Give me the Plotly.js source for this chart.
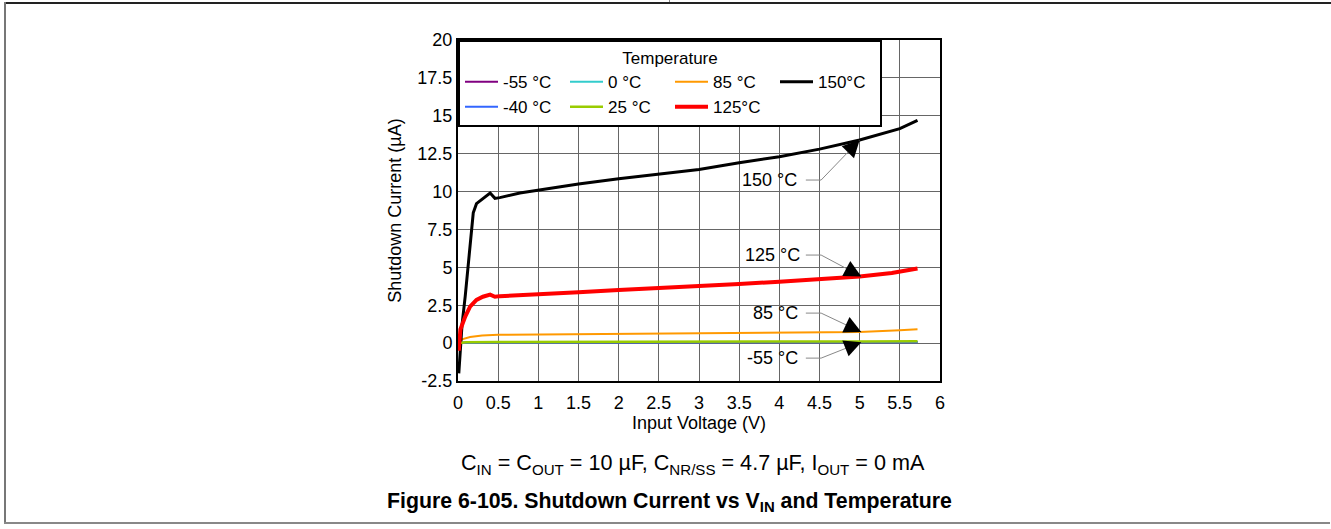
<!DOCTYPE html>
<html>
<head>
<meta charset="utf-8">
<script src="https://cdn.plot.ly/plotly-3.0.1.min.js"></script>
<style>
  html, body { margin: 0; padding: 0; background: #fff; }
  #wrap { position: relative; width: 1331px; height: 529px; overflow: hidden; }
  #chart { position: absolute; left: 0; top: 0; width: 1331px; height: 529px; }
  .ln { position: absolute; }
</style>
</head>
<body>
<div id="wrap">
  <div id="chart"></div>
  <div class="ln" style="left:4px; top:2px; width:1327px; height:2px; background:#222;"></div>
  <div class="ln" style="left:669px; top:0px; width:1px; height:2px; background:#888;"></div>
  <div class="ln" style="left:4px; top:2px; width:2px; height:522px; background:#777;"></div>
  <div class="ln" style="left:4px; top:522px; width:1326px; height:2px; background:#888;"></div>
</div>
<script>
// ---- data ----
const vin150 = [0.01, 0.03, 0.05, 0.09, 0.13, 0.19, 0.23, 0.29, 0.34, 0.40, 0.46, 0.52, 0.77, 1.0, 1.5, 2.0, 2.5, 3.0, 3.5, 4.0, 4.5, 5.0, 5.5, 5.72];
const i150   = [-2.0, -0.2, 1.2, 3.1, 5.3, 8.6, 9.2, 9.45, 9.6, 9.9, 9.55, 9.6, 9.9, 10.1, 10.5, 10.85, 11.15, 11.45, 11.9, 12.3, 12.8, 13.4, 14.15, 14.7];

const vin125 = [0.01, 0.03, 0.09, 0.15, 0.23, 0.31, 0.40, 0.46, 0.52, 1.0, 1.5, 2.0, 2.5, 3.0, 3.5, 4.0, 4.5, 5.0, 5.4, 5.72];
const i125   = [-0.5, 0.9, 1.75, 2.4, 2.85, 3.06, 3.2, 3.06, 3.1, 3.2, 3.35, 3.5, 3.62, 3.76, 3.9, 4.05, 4.22, 4.4, 4.62, 4.92];

const vin85 = [0.01, 0.05, 0.15, 0.3, 0.5, 1.0, 2.0, 3.0, 4.0, 4.5, 5.0, 5.5, 5.72];
const i85   = [0.0, 0.25, 0.4, 0.5, 0.55, 0.57, 0.6, 0.63, 0.67, 0.7, 0.74, 0.85, 0.92];

const vinLow = [0.02, 0.1, 0.5, 1.0, 2.0, 3.0, 4.0, 5.0, 5.72];
const i25    = [0.0, 0.06, 0.08, 0.08, 0.08, 0.09, 0.10, 0.11, 0.13];
const i0     = [0.0, 0.04, 0.05, 0.05, 0.05, 0.06, 0.06, 0.07, 0.08];
const iM40   = [0.0, 0.03, 0.04, 0.04, 0.04, 0.05, 0.05, 0.05, 0.06];
const iM55   = [0.0, 0.04, 0.06, 0.06, 0.05, 0.06, 0.07, 0.08, 0.08];

const xTicks = [0, 0.5, 1, 1.5, 2, 2.5, 3, 3.5, 4, 4.5, 5, 5.5, 6];
const xTickText = ["0", "0.5", "1", "1.5", "2", "2.5", "3", "3.5", "4", "4.5", "5", "5.5", "6"];
const yTicks = [-2.5, 0, 2.5, 5, 7.5, 10, 12.5, 15, 17.5, 20];
const yTickText = ["-2.5", "0", "2.5", "5", "7.5", "10", "12.5", "15", "17.5", "20"];

// callout labels
const calloutText = ["150 °C", "125 °C", "85 °C", "-55 °C"];
const calloutTextX = [3.88, 3.91, 3.95, 3.91];
const calloutY = [10.76, 5.81, 1.98, -0.99];
const calloutSegX0 = 4.33, calloutSegX1 = 4.52;
const tipX = [5.0, 5.02, 5.02, 5.02];
const tipY = [13.4, 4.4, 0.73, 0.06];

const FONT = "Arial, 'Liberation Sans', sans-serif";

function tr(x, y, name, color, width) {
  return { x: x, y: y, name: name, type: "scatter", mode: "lines",
           line: { color: color, width: width }, hoverinfo: "skip" };
}

const traces = [
  tr(vinLow, iM55, "-55 °C", "#800080", 2),
  tr(vinLow, i0, "0 °C", "#33cccc", 2),
  tr(vin85, i85, "85 °C", "#ff9900", 2),
  tr(vin150, i150, "150°C", "#000000", 3),
  tr(vinLow, iM40, "-40 °C", "#3366ff", 2),
  tr(vinLow, i25, "25 °C", "#99cc00", 2.5),
  tr(vin125, i125, "125°C", "#ff0000", 4)
];

const annotations = [];
const shapes = [];
for (let k = 0; k < calloutText.length; k++) {
  annotations.push({ x: calloutTextX[k], y: calloutY[k], xref: "x", yref: "y",
    text: calloutText[k], showarrow: false, font: { size: 18, color: "#000", family: FONT } });
  shapes.push({ type: "line", xref: "x", yref: "y", x0: calloutSegX0, x1: calloutSegX1,
    y0: calloutY[k], y1: calloutY[k], line: { color: "#888", width: 1 } });
  shapes.push({ type: "line", xref: "x", yref: "y", x0: calloutSegX1, x1: tipX[k],
    y0: calloutY[k], y1: tipY[k], line: { color: "#888", width: 1 } });
  const fx = 0.3;
  annotations.push({ x: tipX[k], y: tipY[k], xref: "x", yref: "y",
    ax: tipX[k] - (tipX[k] - calloutSegX1) * fx, ay: tipY[k] - (tipY[k] - calloutY[k]) * fx,
    axref: "x", ayref: "y", text: "", showarrow: true, arrowhead: 2, arrowsize: 3.4,
    arrowwidth: 1, arrowcolor: "#000" });
}

annotations.push({ xref: "paper", yref: "paper", x: 0.4876, y: -0.243, xanchor: "center", yanchor: "middle",
  text: "C<sub>IN</sub> = C<sub>OUT</sub> = 10 µF, C<sub>NR/SS</sub> = 4.7 µF, I<sub>OUT</sub> = 0 mA",
  showarrow: false, font: { size: 21.6, color: "#000", family: FONT } });
annotations.push({ xref: "paper", yref: "paper", x: 0.4378, y: -0.355, xanchor: "center", yanchor: "middle",
  text: "<b>Figure 6-105. Shutdown Current vs V<sub>IN</sub> and Temperature</b>",
  showarrow: false, font: { size: 21.3, color: "#000", family: FONT } });

const layout = {
  width: 1331, height: 529,
  margin: { l: 458, r: 391, t: 40, b: 148 },
  paper_bgcolor: "rgba(0,0,0,0)", plot_bgcolor: "#fff",
  font: { family: FONT, size: 18, color: "#000" },
  showlegend: true,
  legend: {
    orientation: "h", x: 0, y: 1, xanchor: "left", yanchor: "top",
    bgcolor: "#fff", bordercolor: "#000", borderwidth: 2,
    font: { size: 17, family: FONT, color: "#000" },
    title: { text: "Temperature", side: "top center", font: { size: 17, family: FONT } },
    entrywidth: 57, entrywidthmode: "pixels", itemwidth: 33, tracegroupgap: 0
  },
  xaxis: {
    range: [0, 6], tickvals: xTicks, ticktext: xTickText,
    showgrid: true, gridcolor: "#666", gridwidth: 1, zeroline: false,
    showline: true, linecolor: "#000", linewidth: 2, mirror: true, ticks: "",
    tickfont: { size: 18 }, fixedrange: true, ticklabelstandoff: 4,
    title: { text: "Input Voltage (V)", font: { size: 18 }, standoff: 4 }
  },
  yaxis: {
    range: [-2.5, 20], tickvals: yTicks, ticktext: yTickText,
    showgrid: true, gridcolor: "#666", gridwidth: 1, zeroline: false,
    showline: true, linecolor: "#000", linewidth: 2, mirror: true, ticks: "",
    tickfont: { size: 18 }, fixedrange: true,
    title: { text: "Shutdown Current (µA)", font: { size: 18 }, standoff: 11 }
  },
  shapes: shapes,
  annotations: annotations
};

Plotly.newPlot("chart", traces, layout, { staticPlot: true, displayModeBar: false });
</script>
</body>
</html>
